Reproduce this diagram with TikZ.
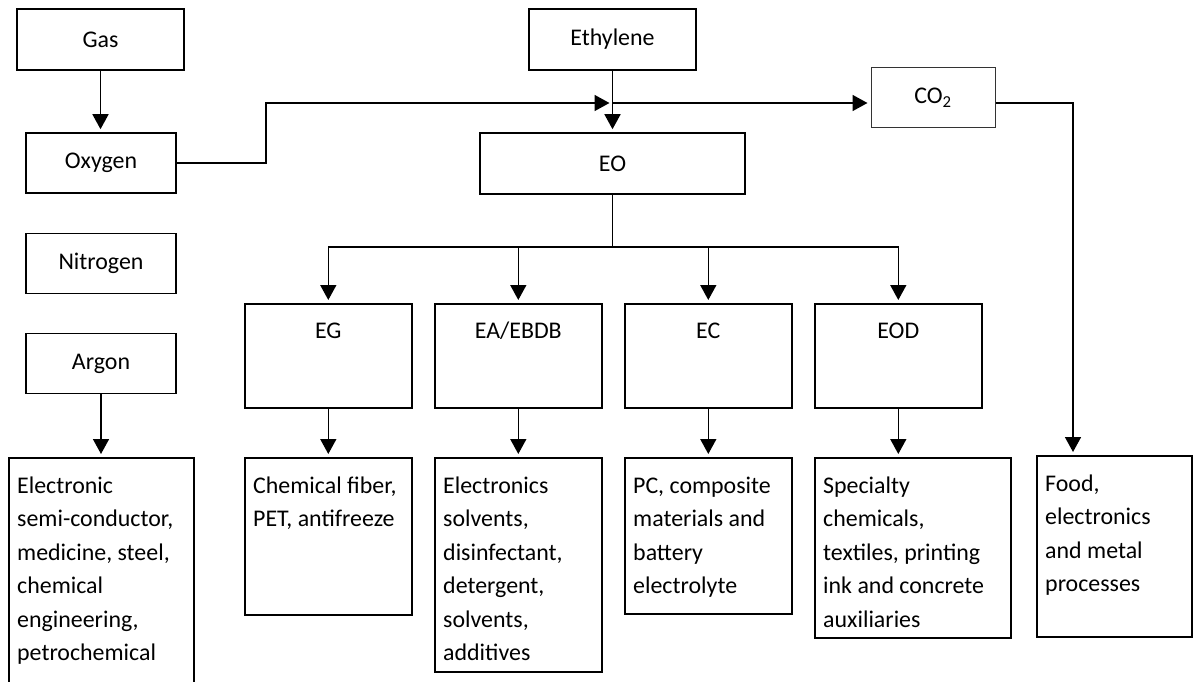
\documentclass[tikz,border=0pt]{standalone}
\usepackage{fontspec}
\setmainfont{Carlito}
\usetikzlibrary{arrows.meta}

\begin{document}
\begin{tikzpicture}[x=1pt,y=-1pt,
  every node/.style={font=\fontsize{23.9}{33.5}\selectfont},
  box/.style={draw,line width=1.6pt,inner sep=0pt},
  arr/.style={-{Triangle[length=15pt,width=16pt]},line width=1.6pt,shorten >=3pt}]
\clip (0,0) rectangle (1194,682);

% Air gases
\node[box,minimum width=167,minimum height=61] (gas) at (100.5,39.5) {Gas};
\foreach \name/\txt/\y in {oxy/Oxygen/163, nitro/Nitrogen/263.5, argon/Argon/363.5}
    \node[box,minimum width=150,minimum height=60] (\name) at (101,\y) {\txt};

% Ethylene route
\node[box,minimum width=167,minimum height=61] (eth) at (612.5,39.5) {Ethylene};
\node[box,minimum width=265,minimum height=61] (eo) at (612.5,163.5) {EO};
\node[draw=black!80,line width=1pt,inner sep=0pt,minimum width=124,minimum height=60] (co2) at (933,98) {CO\textsubscript{2}};

% Derivatives
\foreach \name/\txt/\x in {eg/EG/244, ea/{EA/EBDB}/434, ec/EC/624, eod/EOD/814} {
    \node[box,anchor=north west,minimum width=167,minimum height=104] (\name) at (\x,303) {};
    \node[anchor=base] (\name-lbl) at ([yshift=-35]\name.north) {\txt};
}

% Uses (base anchor sits on the last line, so shift by the line count)
\foreach \name/\x/\y/\w/\h/\n/\txt in {
    argon/8/457/185/265/6/{Electronic\\semi-conductor,\\medicine, steel,\\chemical\\engineering,\\petrochemical},
    eg/244/457/167/157/2/{Chemical fiber,\\PET, antifreeze},
    ea/434/457/167/214/6/{Electronics\\solvents,\\disinfectant,\\detergent,\\solvents,\\additives},
    ec/624/457/167/156/4/{PC, composite\\materials and\\battery\\electrolyte},
    eod/814/457/196/180/5/{Specialty\\chemicals,\\textiles, printing\\ink and concrete\\auxiliaries},
    co2/1036/455/155/181/4/{Food,\\electronics\\and metal\\processes}} {
    \node[box,anchor=north west,minimum width=\w,minimum height=\h] (\name-use) at (\x,\y) {};
    \node[anchor=base west,align=left,inner sep=0pt] (\name-txt)
        at ([xshift=9,yshift={-36-(\n-1)*33.5}]\name-use.north west) {\txt};
}

% Arrows
\draw[arr] (gas.south) -- (gas.south |- oxy.north);
\draw[arr] (argon.south) -- (argon.south |- argon-use.north);
\draw[arr] (eth.south) -- (eo.north);
\coordinate (mix) at (612.5,103);
\coordinate (oxbend) at (266,163);
\coordinate (co2drop) at (1073,0);
\draw[arr] (oxy.east) -- (oxbend) |- (mix);
\draw[arr] (mix) -- (mix -| co2.west);
\draw[arr] (mix -| co2.east) -| (co2drop |- co2-use.north);

\coordinate (bus) at (612.5,247);
\draw[line width=1.6pt] (eo.south) -- (bus);
\foreach \name in {eg,ea,ec,eod} {
    \draw[arr] (bus) -| (\name.north);
    \draw[arr] (\name.south) -- (\name.south |- \name-use.north);
}
\end{tikzpicture}
\end{document}
